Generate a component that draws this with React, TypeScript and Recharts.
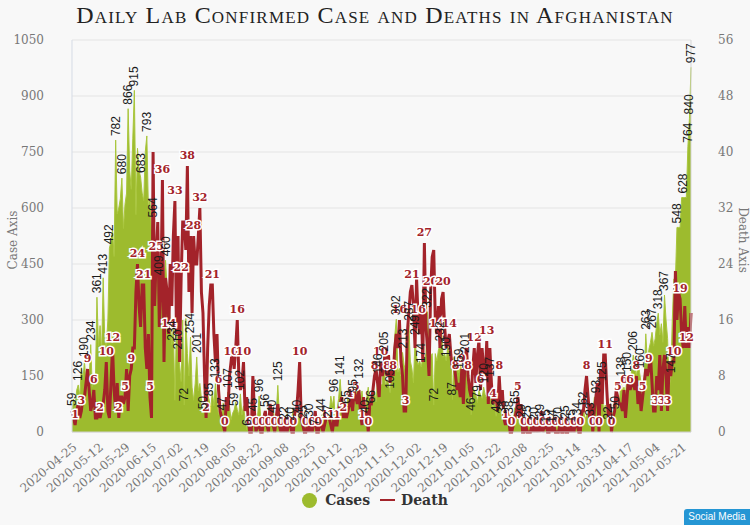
import React from 'react';
import {
  ComposedChart,
  Area,
  Line,
  XAxis,
  YAxis,
  CartesianGrid,
  LabelList,
} from 'recharts';

// daily counts starting 2020-04-25, eight days per row
const cases = [
  59, 88, 70, 112, 126, 95, 172, 140,
  190, 130, 120, 140, 234, 120, 150, 140,
  361, 230, 285, 210, 413, 250, 230, 300,
  492, 510, 540, 470, 782, 584, 600, 625,
  680, 545, 610, 640, 866, 700, 650, 787,
  915, 582, 760, 700, 683, 640, 620, 751,
  793, 600, 620, 540, 564, 500, 470, 430,
  409, 480, 430, 390, 460, 380, 351, 300,
  234, 276, 85, 290, 210, 180, 135, 300,
  72, 304, 210, 150, 254, 120, 85, 130,
  201, 110, 130, 90, 50, 75, 120, 100,
  85, 60, 110, 70, 133, 80, 47, 60,
  47, 78, 60, 40, 107, 70, 33, 50,
  59, 80, 60, 45, 102, 45, 70, 35,
  6, 45, 30, 20, 45, 60, 25, 40,
  96, 40, 30, 50, 56, 22, 35, 49,
  40, 60, 35, 50, 125, 45, 20, 30,
  22, 35, 49, 30, 20, 40, 60, 35,
  40, 30, 49, 60, 25, 35, 20, 40,
  30, 18, 25, 40, 7, 44, 30, 25,
  44, 50, 35, 60, 27, 50, 96, 70,
  96, 21, 60, 90, 141, 80, 65, 70,
  65, 95, 80, 70, 95, 60, 132, 90,
  132, 90, 110, 70, 40, 90, 120, 66,
  66, 90, 110, 80, 146, 100, 120, 130,
  205, 120, 140, 130, 105, 151, 160, 257,
  302, 160, 170, 150, 213, 180, 160, 190,
  287, 190, 170, 132, 249, 200, 180, 190,
  174, 200, 190, 210, 322, 220, 200, 210,
  72, 210, 190, 220, 232, 271, 200, 210,
  190, 230, 200, 210, 87, 200, 159, 190,
  159, 180, 160, 140, 201, 150, 120, 140,
  46, 120, 110, 100, 79, 110, 100, 90,
  120, 100, 90, 80, 137, 80, 62, 90,
  42, 80, 70, 60, 38, 70, 60, 50,
  38, 45, 40, 30, 65, 29, 35, 20,
  29, 20, 35, 15, 25, 30, 20, 15,
  20, 15, 25, 18, 29, 22, 12, 20,
  15, 20, 10, 25, 14, 18, 25, 12,
  20, 15, 12, 18, 25, 16, 10, 22,
  15, 20, 18, 25, 34, 22, 30, 28,
  62, 33, 45, 50, 33, 60, 40, 93,
  93, 70, 60, 80, 125, 50, 72, 40,
  22, 72, 60, 40, 50, 80, 60, 70,
  138, 110, 120, 100, 150, 130, 120, 170,
  206, 170, 150, 190, 160, 130, 120, 150,
  263, 190, 221, 240, 267, 230, 250, 290,
  318, 260, 290, 240, 367, 300, 250, 114,
  147, 300, 410, 410, 548, 548, 548, 628,
  628, 628, 628, 764, 840, 977,
];

const deaths = [
  3, 2, 1, 3, 4, 2, 3, 5,
  5, 7, 9, 6, 3, 4, 6, 2,
  2, 4, 2, 3, 4, 6, 10, 3,
  2, 7, 12, 6, 3, 7, 2, 5,
  5, 4, 5, 9, 3, 8, 9, 12,
  12, 20, 24, 18, 15, 21, 21, 12,
  9, 14, 5, 2, 40, 18, 25, 30,
  15, 20, 36, 10, 22, 20, 14, 24,
  18, 28, 33, 14, 28, 10, 22, 30,
  30, 26, 38, 20, 28, 17, 28, 24,
  24, 28, 32, 20, 17, 8, 2, 12,
  18, 21, 21, 14, 10, 14, 6, 3,
  2, 1, 0, 5, 3, 8, 10, 12,
  9, 12, 16, 8, 6, 7, 10, 3,
  5, 2, 0, 0, 8, 3, 0, 1,
  1, 0, 0, 2, 3, 1, 0, 4,
  3, 1, 0, 2, 4, 1, 0, 2,
  0, 1, 0, 2, 1, 0, 0, 3,
  3, 6, 10, 2, 1, 0, 0, 1,
  0, 2, 0, 1, 3, 0, 0, 2,
  1, 0, 1, 2, 3, 2, 1, 0,
  2, 1, 1, 3, 4, 5, 2, 3,
  2, 3, 4, 5, 3, 6, 5, 4,
  6, 3, 1, 5, 2, 3, 0, 4,
  4, 6, 8, 9, 7, 5, 10, 8,
  9, 12, 8, 11, 7, 10, 8, 12,
  14, 12, 16, 10, 8, 3, 3, 14,
  17, 20, 21, 18, 12, 22, 16, 14,
  18, 10, 27, 15, 12, 8, 20, 25,
  26, 16, 14, 18, 12, 19, 20, 15,
  12, 13, 14, 11, 9, 10, 8, 6,
  7, 5, 9, 4, 10, 12, 8, 6,
  5, 9, 12, 7, 11, 13, 6, 12,
  9, 8, 13, 4, 12, 7, 4, 6,
  5, 3, 8, 4, 6, 2, 1, 3,
  2, 0, 0, 1, 2, 3, 5, 2,
  4, 0, 0, 1, 0, 0, 0, 1,
  0, 1, 0, 2, 0, 3, 0, 1,
  1, 0, 0, 2, 0, 1, 0, 0,
  0, 1, 0, 0, 2, 0, 0, 1,
  0, 1, 0, 2, 1, 0, 0, 3,
  3, 6, 8, 5, 2, 4, 0, 3,
  5, 7, 0, 9, 4, 11, 11, 6,
  2, 4, 0, 2, 3, 6, 5, 4,
  4, 3, 6, 2, 5, 8, 6, 7,
  7, 6, 8, 4, 6, 3, 5, 7,
  9, 8, 9, 11, 7, 3, 3, 8,
  6, 11, 3, 9, 11, 8, 3, 10,
  8, 10, 10, 23, 16, 20, 19, 14,
  12, 18, 12, 15, 12, 17,
];

const caseTicks = [0, 150, 300, 450, 600, 750, 900, 1050];
const deathTicks = [0, 8, 16, 24, 32, 40, 48, 56];

const dates = cases.map((_, i) =>
  new Date(Date.UTC(2020, 3, 25 + i)).toISOString().slice(0, 10)
);

const data = dates.map((date, i) => ({ date, cases: cases[i], deaths: deaths[i] }));

const GREEN = '#9dbb2e';
const RED = '#a3232a';
const SERIF = "'DejaVu Serif', serif";

function CaseLabel(props: any) {
  const { x, y, value, index } = props;
  if (!(index % 4 === 0 || index >= cases.length - 3)) return null;
  const ty = y - 4;
  return (
    <text
      x={x}
      y={ty}
      transform={`rotate(-90 ${x} ${ty})`}
      textAnchor="start"
      dominantBaseline="central"
      fontSize={12}
      fill="#1b1b1b"
      fontFamily="'Liberation Sans Narrow', 'Liberation Sans', sans-serif"
    >
      {value}
    </text>
  );
}

function DeathLabel(props: any) {
  const { x, y, value, index } = props;
  if (index % 4 !== 2) return null;
  return (
    <text
      x={x}
      y={y - 7}
      textAnchor="middle"
      fontSize={11}
      fontWeight="bold"
      fill={RED}
      stroke="#fff"
      strokeWidth={3}
      paintOrder="stroke"
      fontFamily={SERIF}
    >
      {value}
    </text>
  );
}

export default function App() {
  return (
    <div
      style={{
        position: 'absolute',
        left: 0,
        top: 0,
        width: 750,
        height: 525,
        background: '#f8f8f8',
        fontFamily: SERIF,
        overflow: 'hidden',
      }}
    >
      <div
        style={{
          position: 'absolute',
          top: 2,
          left: 0,
          width: 750,
          textAlign: 'center',
          fontFamily: "'Liberation Serif', serif",
          fontVariant: 'small-caps',
          fontSize: 24,
          letterSpacing: 1.2,
          color: '#222',
        }}
      >
        Daily Lab Confirmed Case and Deaths in Afghanistan
      </div>

      <ComposedChart
        width={750}
        height={525}
        data={data}
        margin={{ top: 40, right: 0, bottom: 33, left: 0 }}
      >
        <CartesianGrid yAxisId="left" vertical={false} stroke="#e4e4e4" />
        <XAxis
          dataKey="date"
          interval={16}
          height={60}
          tickLine={false}
          axisLine={{ stroke: '#d0d0d0' }}
          angle={-40}
          textAnchor="end"
          tick={{ fontSize: 12, fill: '#777', fontFamily: SERIF }}
          tickMargin={4}
        />
        <YAxis
          yAxisId="left"
          width={72}
          domain={[0, 1050]}
          ticks={caseTicks}
          tickLine={false}
          axisLine={{ stroke: '#d5dbe5' }}
          tickMargin={22}
          tick={{ fontSize: 12, fill: '#777', fontFamily: SERIF }}
        />
        <YAxis
          yAxisId="right"
          orientation="right"
          width={59}
          domain={[0, 56]}
          ticks={deathTicks}
          tickLine={false}
          axisLine={{ stroke: '#d5d5d5' }}
          tickMargin={21}
          tick={{ fontSize: 12, fill: '#777', fontFamily: SERIF }}
        />
        <Area
          yAxisId="left"
          type="linear"
          dataKey="cases"
          fill={GREEN}
          fillOpacity={1}
          stroke="#a9c63c"
          strokeWidth={1}
          isAnimationActive={false}
        />
        <Line
          yAxisId="right"
          type="linear"
          dataKey="deaths"
          stroke={RED}
          strokeWidth={3}
          dot={false}
          isAnimationActive={false}
        >
          <LabelList dataKey="deaths" content={<DeathLabel />} />
        </Line>
        <Line
          yAxisId="left"
          type="linear"
          dataKey="cases"
          stroke="none"
          dot={false}
          activeDot={false}
          legendType="none"
          isAnimationActive={false}
        >
          <LabelList dataKey="cases" content={<CaseLabel />} />
        </Line>
      </ComposedChart>

      <div
        style={{
          position: 'absolute',
          left: 6,
          top: 240,
          transform: 'translate(-50%, -50%) rotate(-90deg)',
          fontSize: 12,
          color: '#777',
          whiteSpace: 'nowrap',
          marginLeft: 7,
        }}
      >
        Case Axis
      </div>
      <div
        style={{
          position: 'absolute',
          left: 736,
          top: 240,
          transform: 'translate(-50%, -50%) rotate(90deg)',
          fontSize: 12,
          color: '#777',
          whiteSpace: 'nowrap',
          marginLeft: 7,
        }}
      >
        Death Axis
      </div>

      <div
        style={{
          position: 'absolute',
          top: 492,
          left: 0,
          width: 750,
          display: 'flex',
          justifyContent: 'center',
          alignItems: 'center',
          fontSize: 14,
          fontWeight: 'bold',
          color: '#333',
        }}
      >
        <span
          style={{
            width: 15,
            height: 15,
            borderRadius: '50%',
            background: GREEN,
            display: 'inline-block',
            marginRight: 8,
          }}
        />
        <span style={{ marginRight: 10 }}>Cases</span>
        <span
          style={{
            width: 15,
            height: 2,
            background: RED,
            display: 'inline-block',
            marginRight: 6,
          }}
        />
        <span>Death</span>
      </div>

      <div
        style={{
          position: 'absolute',
          right: 0,
          bottom: 0,
          width: 66,
          height: 16,
          background: '#2596d4',
          borderTopLeftRadius: 3,
          color: '#fff',
          fontSize: 10,
          fontFamily: "'Liberation Sans Narrow', 'Liberation Sans', sans-serif",
          lineHeight: '16px',
          textAlign: 'center',
        }}
      >
        Social Media
      </div>
    </div>
  );
}
